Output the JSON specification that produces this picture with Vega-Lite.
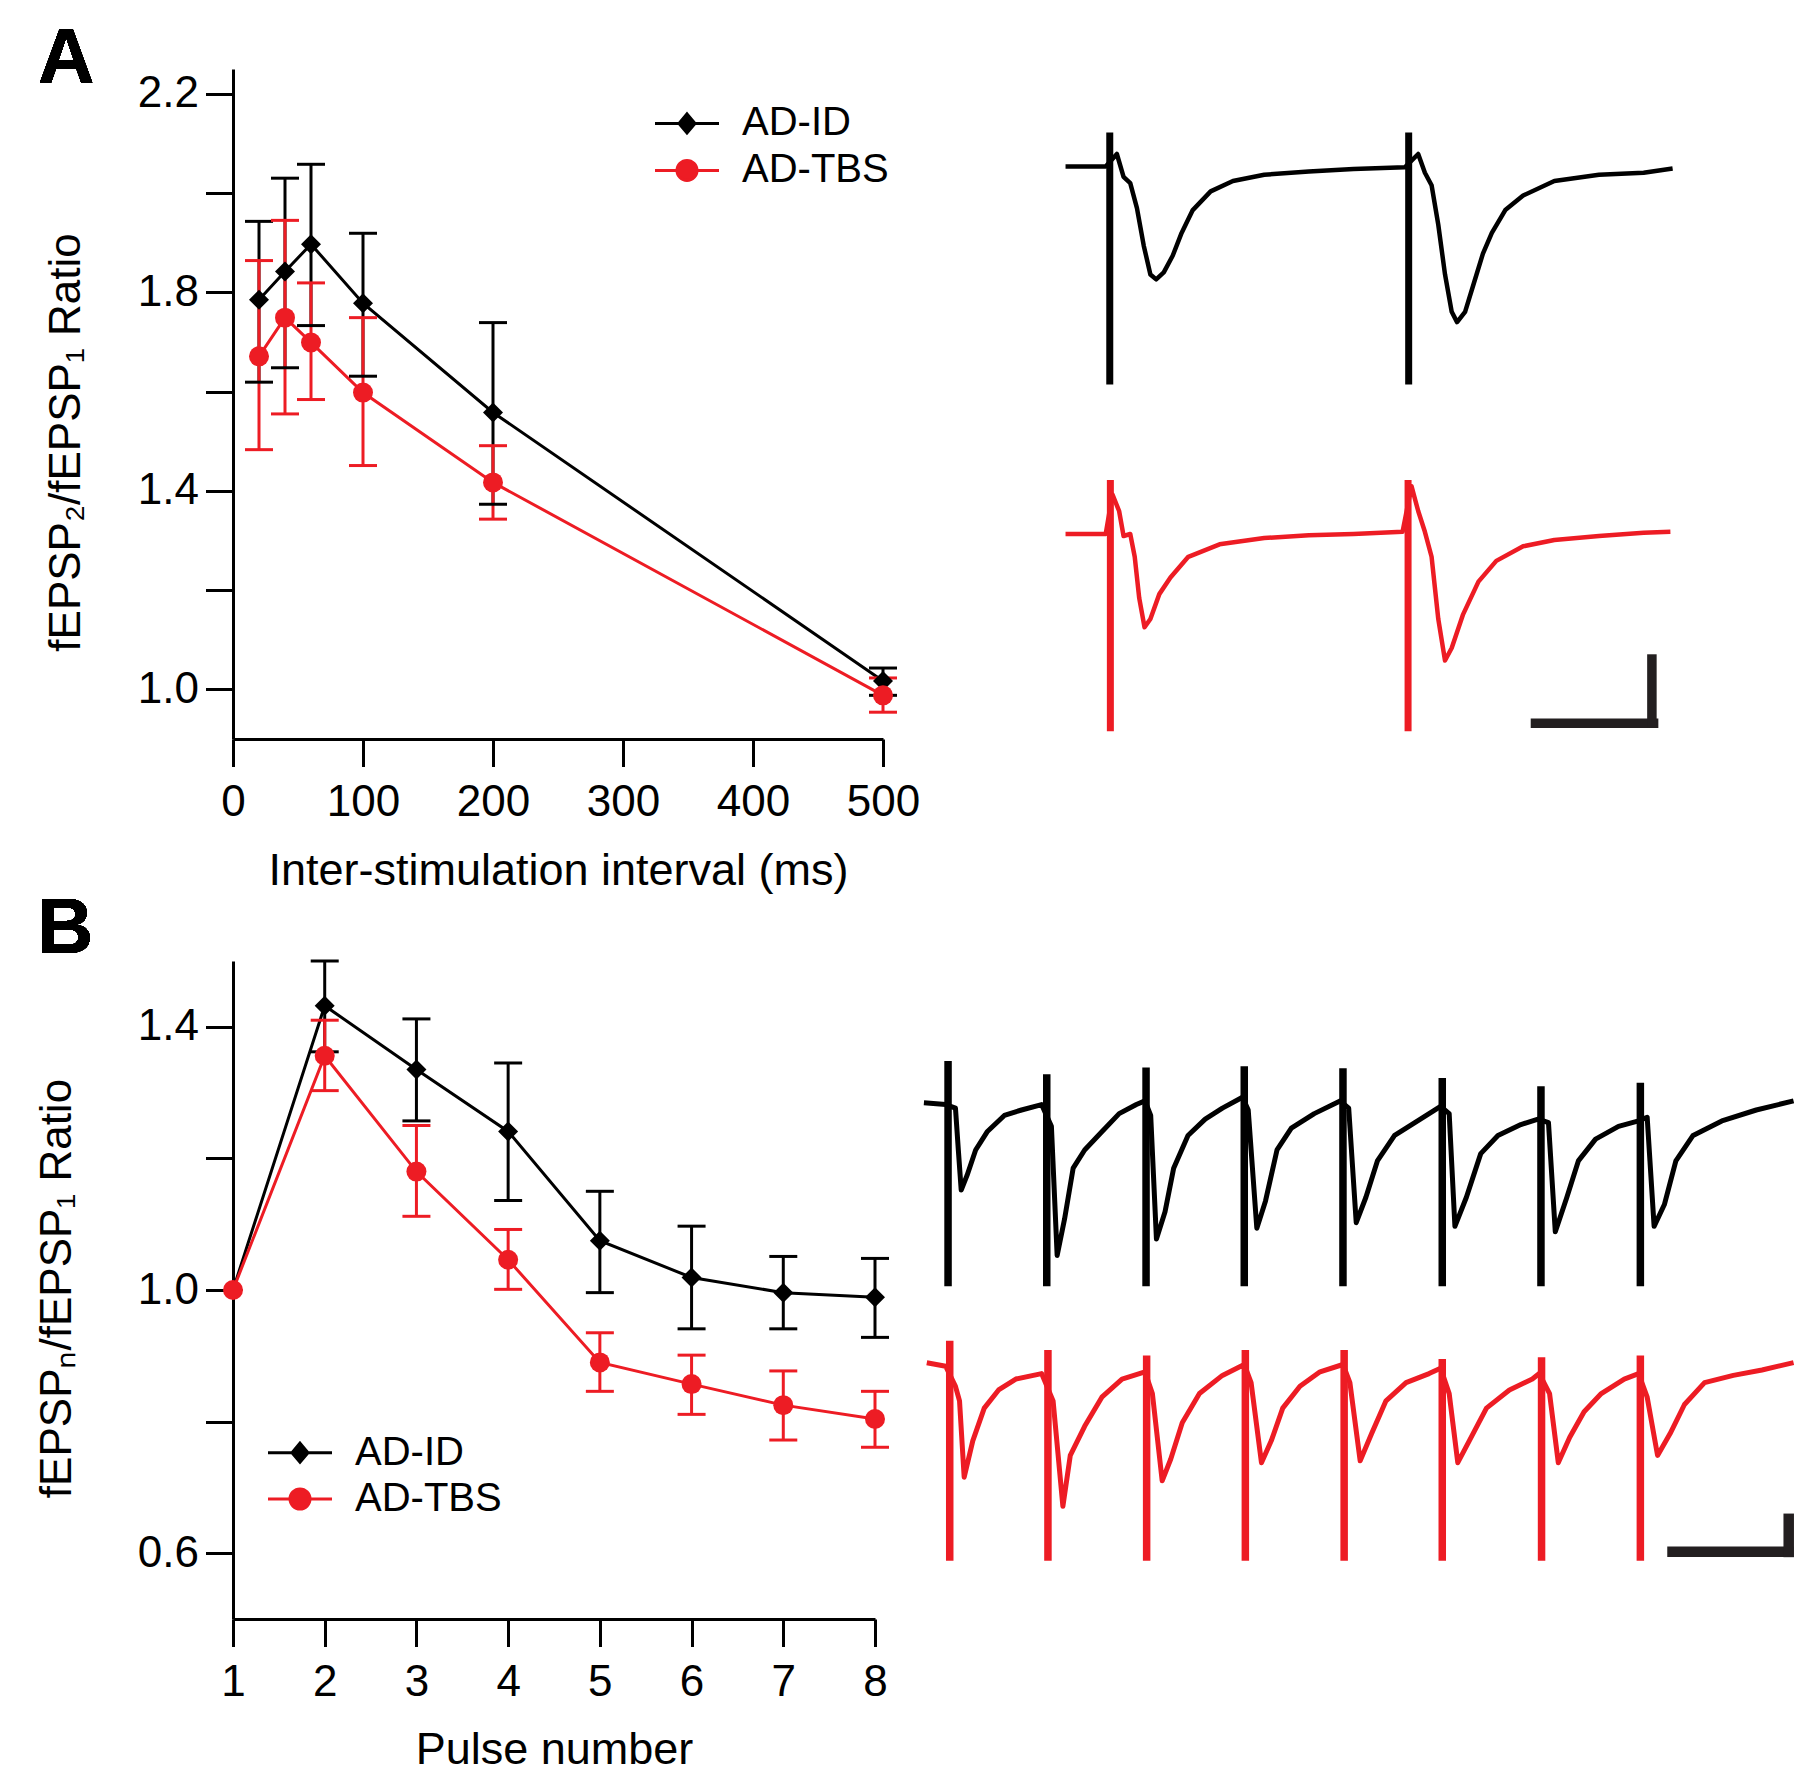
{
  "$schema": "https://vega.github.io/schema/vega-lite/v6.json",
  "background": "white",
  "padding": {"left": 35, "top": 21, "right": 0, "bottom": 0},
  "config": {
    "view": {"stroke": null},
    "font": "Liberation Sans",
    "axis": {"grid": false, "domainColor": "black", "domainWidth": 3, "tickColor": "black", "tickWidth": 3, "tickSize": 27.5, "labelFont": "Liberation Sans", "labelFontSize": 44, "labelColor": "black", "titleFont": "Liberation Sans", "titleFontSize": 44, "titleFontWeight": "normal", "titleColor": "black"},
    "legend": {"labelFont": "Liberation Sans", "labelFontSize": 40, "labelColor": "black", "symbolSize": 400, "symbolOffset": 12, "labelOffset": 35, "rowPadding": 7, "padding": 0, "symbolStrokeWidth": 3, "symbolOpacity": 1}
  },
  "datasets": {
    "pprA": [
      {"isi": 20, "series": "AD-ID", "ratio": 1.785, "lo": 1.619, "hi": 1.943},
      {"isi": 40, "series": "AD-ID", "ratio": 1.842, "lo": 1.648, "hi": 2.030},
      {"isi": 60, "series": "AD-ID", "ratio": 1.897, "lo": 1.733, "hi": 2.058},
      {"isi": 100, "series": "AD-ID", "ratio": 1.778, "lo": 1.631, "hi": 1.919},
      {"isi": 200, "series": "AD-ID", "ratio": 1.558, "lo": 1.373, "hi": 1.739},
      {"isi": 500, "series": "AD-ID", "ratio": 1.017, "lo": 0.988, "hi": 1.043},
      {"isi": 20, "series": "AD-TBS", "ratio": 1.671, "lo": 1.483, "hi": 1.864},
      {"isi": 40, "series": "AD-TBS", "ratio": 1.749, "lo": 1.555, "hi": 1.945},
      {"isi": 60, "series": "AD-TBS", "ratio": 1.699, "lo": 1.584, "hi": 1.819},
      {"isi": 100, "series": "AD-TBS", "ratio": 1.598, "lo": 1.451, "hi": 1.749},
      {"isi": 200, "series": "AD-TBS", "ratio": 1.417, "lo": 1.343, "hi": 1.491},
      {"isi": 500, "series": "AD-TBS", "ratio": 0.988, "lo": 0.954, "hi": 1.023}
    ],
    "pprB": [
      {"pulse": 1, "series": "AD-ID", "ratio": 1.0, "lo": null, "hi": null},
      {"pulse": 2, "series": "AD-ID", "ratio": 1.432, "lo": 1.362, "hi": 1.500},
      {"pulse": 3, "series": "AD-ID", "ratio": 1.335, "lo": 1.257, "hi": 1.412},
      {"pulse": 4, "series": "AD-ID", "ratio": 1.241, "lo": 1.136, "hi": 1.345},
      {"pulse": 5, "series": "AD-ID", "ratio": 1.075, "lo": 0.996, "hi": 1.150},
      {"pulse": 6, "series": "AD-ID", "ratio": 1.019, "lo": 0.941, "hi": 1.097},
      {"pulse": 7, "series": "AD-ID", "ratio": 0.996, "lo": 0.941, "hi": 1.051},
      {"pulse": 8, "series": "AD-ID", "ratio": 0.989, "lo": 0.928, "hi": 1.048},
      {"pulse": 1, "series": "AD-TBS", "ratio": 1.0, "lo": null, "hi": null},
      {"pulse": 2, "series": "AD-TBS", "ratio": 1.356, "lo": 1.303, "hi": 1.410},
      {"pulse": 3, "series": "AD-TBS", "ratio": 1.180, "lo": 1.112, "hi": 1.250},
      {"pulse": 4, "series": "AD-TBS", "ratio": 1.046, "lo": 1.001, "hi": 1.092},
      {"pulse": 5, "series": "AD-TBS", "ratio": 0.890, "lo": 0.846, "hi": 0.935},
      {"pulse": 6, "series": "AD-TBS", "ratio": 0.857, "lo": 0.811, "hi": 0.901},
      {"pulse": 7, "series": "AD-TBS", "ratio": 0.825, "lo": 0.772, "hi": 0.877},
      {"pulse": 8, "series": "AD-TBS", "ratio": 0.804, "lo": 0.761, "hi": 0.846}
    ],
    "traceA": [
      {"series": "AD-ID", "t": -7.04, "v": 0}, {"series": "AD-ID", "t": -0.37, "v": 0}, {"series": "AD-ID", "t": 1.48, "v": 0.086}, {"series": "AD-ID", "t": 2.59, "v": -0.071}, {"series": "AD-ID", "t": 3.70, "v": -0.114}, {"series": "AD-ID", "t": 4.81, "v": -0.286}, {"series": "AD-ID", "t": 5.93, "v": -0.543}, {"series": "AD-ID", "t": 7.04, "v": -0.743}, {"series": "AD-ID", "t": 8.0, "v": -0.777}, {"series": "AD-ID", "t": 9.26, "v": -0.729}, {"series": "AD-ID", "t": 10.74, "v": -0.614}, {"series": "AD-ID", "t": 12.22, "v": -0.457}, {"series": "AD-ID", "t": 14.07, "v": -0.3}, {"series": "AD-ID", "t": 17.04, "v": -0.171}, {"series": "AD-ID", "t": 20.74, "v": -0.1}, {"series": "AD-ID", "t": 25.93, "v": -0.057}, {"series": "AD-ID", "t": 33.33, "v": -0.034}, {"series": "AD-ID", "t": 40.74, "v": -0.017}, {"series": "AD-ID", "t": 49.26, "v": -0.006}, {"series": "AD-ID", "t": 51.48, "v": 0.086}, {"series": "AD-ID", "t": 52.59, "v": -0.043}, {"series": "AD-ID", "t": 53.70, "v": -0.129}, {"series": "AD-ID", "t": 54.81, "v": -0.4}, {"series": "AD-ID", "t": 55.93, "v": -0.743}, {"series": "AD-ID", "t": 57.04, "v": -1.0}, {"series": "AD-ID", "t": 57.93, "v": -1.071}, {"series": "AD-ID", "t": 59.26, "v": -1.0}, {"series": "AD-ID", "t": 60.74, "v": -0.8}, {"series": "AD-ID", "t": 62.22, "v": -0.6}, {"series": "AD-ID", "t": 63.70, "v": -0.457}, {"series": "AD-ID", "t": 65.93, "v": -0.3}, {"series": "AD-ID", "t": 68.89, "v": -0.2}, {"series": "AD-ID", "t": 74.07, "v": -0.1}, {"series": "AD-ID", "t": 81.48, "v": -0.057}, {"series": "AD-ID", "t": 88.89, "v": -0.043}, {"series": "AD-ID", "t": 93.70, "v": -0.014},
      {"series": "AD-TBS", "t": -7.04, "v": -2.529}, {"series": "AD-TBS", "t": -0.37, "v": -2.529}, {"series": "AD-TBS", "t": 0.74, "v": -2.257}, {"series": "AD-TBS", "t": 1.85, "v": -2.371}, {"series": "AD-TBS", "t": 2.59, "v": -2.543}, {"series": "AD-TBS", "t": 3.70, "v": -2.529}, {"series": "AD-TBS", "t": 4.44, "v": -2.686}, {"series": "AD-TBS", "t": 5.19, "v": -2.971}, {"series": "AD-TBS", "t": 6.07, "v": -3.171}, {"series": "AD-TBS", "t": 7.04, "v": -3.114}, {"series": "AD-TBS", "t": 8.52, "v": -2.943}, {"series": "AD-TBS", "t": 10.37, "v": -2.829}, {"series": "AD-TBS", "t": 13.33, "v": -2.686}, {"series": "AD-TBS", "t": 18.52, "v": -2.6}, {"series": "AD-TBS", "t": 25.93, "v": -2.557}, {"series": "AD-TBS", "t": 33.33, "v": -2.537}, {"series": "AD-TBS", "t": 40.74, "v": -2.529}, {"series": "AD-TBS", "t": 48.89, "v": -2.514}, {"series": "AD-TBS", "t": 50.37, "v": -2.2}, {"series": "AD-TBS", "t": 51.48, "v": -2.371}, {"series": "AD-TBS", "t": 52.59, "v": -2.514}, {"series": "AD-TBS", "t": 53.70, "v": -2.686}, {"series": "AD-TBS", "t": 54.81, "v": -3.114}, {"series": "AD-TBS", "t": 55.93, "v": -3.4}, {"series": "AD-TBS", "t": 57.04, "v": -3.314}, {"series": "AD-TBS", "t": 58.89, "v": -3.086}, {"series": "AD-TBS", "t": 61.48, "v": -2.857}, {"series": "AD-TBS", "t": 64.44, "v": -2.714}, {"series": "AD-TBS", "t": 68.89, "v": -2.614}, {"series": "AD-TBS", "t": 74.07, "v": -2.571}, {"series": "AD-TBS", "t": 81.48, "v": -2.543}, {"series": "AD-TBS", "t": 88.89, "v": -2.52}, {"series": "AD-TBS", "t": 93.33, "v": -2.514}
    ],
    "artA": [
      {"series": "AD-ID", "t": 0.3, "top": 0.234, "bot": -1.5},
      {"series": "AD-ID", "t": 49.9, "top": 0.234, "bot": -1.5},
      {"series": "AD-TBS", "t": 0.4, "top": -2.157, "bot": -3.886},
      {"series": "AD-TBS", "t": 49.8, "top": -2.157, "bot": -3.886}
    ],
    "barA": [
      {"t": 70.15, "t2": 91.33, "v": -3.831, "v2": -3.831},
      {"t": 90.26, "t2": 90.26, "v": -3.357, "v2": -3.863}
    ],
    "traceB": [
      {"series": "AD-ID", "t": -2.44, "v": 0}, {"series": "AD-ID", "t": -0.23, "v": -0.025}, {"series": "AD-ID", "t": 0.75, "v": -0.075}, {"series": "AD-ID", "t": 1.04, "v": -0.65}, {"series": "AD-ID", "t": 1.33, "v": -1.2}, {"series": "AD-ID", "t": 1.92, "v": -1.0}, {"series": "AD-ID", "t": 2.79, "v": -0.65}, {"series": "AD-ID", "t": 3.95, "v": -0.4}, {"series": "AD-ID", "t": 5.69, "v": -0.175}, {"series": "AD-ID", "t": 7.43, "v": -0.1}, {"series": "AD-ID", "t": 9.46, "v": -0.025},
      {"series": "AD-ID", "t": 10.45, "v": -0.325}, {"series": "AD-ID", "t": 11.03, "v": -2.1}, {"series": "AD-ID", "t": 11.78, "v": -1.6}, {"series": "AD-ID", "t": 12.65, "v": -0.9}, {"series": "AD-ID", "t": 13.81, "v": -0.65}, {"series": "AD-ID", "t": 15.55, "v": -0.4}, {"series": "AD-ID", "t": 17.30, "v": -0.15}, {"series": "AD-ID", "t": 19.04, "v": -0.025}, {"series": "AD-ID", "t": 19.91, "v": 0.025},
      {"series": "AD-ID", "t": 20.49, "v": -0.175}, {"series": "AD-ID", "t": 21.07, "v": -1.875}, {"series": "AD-ID", "t": 21.94, "v": -1.5}, {"series": "AD-ID", "t": 22.81, "v": -0.9}, {"series": "AD-ID", "t": 24.26, "v": -0.45}, {"series": "AD-ID", "t": 26.0, "v": -0.225}, {"series": "AD-ID", "t": 27.74, "v": -0.075}, {"series": "AD-ID", "t": 29.77, "v": 0.075},
      {"series": "AD-ID", "t": 30.35, "v": -0.1}, {"series": "AD-ID", "t": 31.22, "v": -1.725}, {"series": "AD-ID", "t": 32.10, "v": -1.35}, {"series": "AD-ID", "t": 33.26, "v": -0.65}, {"series": "AD-ID", "t": 34.71, "v": -0.35}, {"series": "AD-ID", "t": 37.03, "v": -0.15}, {"series": "AD-ID", "t": 39.64, "v": 0.025},
      {"series": "AD-ID", "t": 40.51, "v": -0.075}, {"series": "AD-ID", "t": 41.27, "v": -1.65}, {"series": "AD-ID", "t": 42.25, "v": -1.3}, {"series": "AD-ID", "t": 43.41, "v": -0.8}, {"series": "AD-ID", "t": 45.15, "v": -0.45}, {"series": "AD-ID", "t": 47.48, "v": -0.25}, {"series": "AD-ID", "t": 49.80, "v": -0.05},
      {"series": "AD-ID", "t": 50.67, "v": -0.15}, {"series": "AD-ID", "t": 51.25, "v": -1.7}, {"series": "AD-ID", "t": 52.41, "v": -1.3}, {"series": "AD-ID", "t": 53.86, "v": -0.7}, {"series": "AD-ID", "t": 55.60, "v": -0.45}, {"series": "AD-ID", "t": 57.92, "v": -0.3}, {"series": "AD-ID", "t": 59.66, "v": -0.225},
      {"series": "AD-ID", "t": 60.71, "v": -0.275}, {"series": "AD-ID", "t": 61.40, "v": -1.775}, {"series": "AD-ID", "t": 62.57, "v": -1.3}, {"series": "AD-ID", "t": 63.73, "v": -0.8}, {"series": "AD-ID", "t": 65.47, "v": -0.5}, {"series": "AD-ID", "t": 67.79, "v": -0.325}, {"series": "AD-ID", "t": 69.82, "v": -0.25},
      {"series": "AD-ID", "t": 70.69, "v": -0.2}, {"series": "AD-ID", "t": 71.39, "v": -1.7}, {"series": "AD-ID", "t": 72.43, "v": -1.4}, {"series": "AD-ID", "t": 73.59, "v": -0.8}, {"series": "AD-ID", "t": 75.33, "v": -0.45}, {"series": "AD-ID", "t": 78.24, "v": -0.25}, {"series": "AD-ID", "t": 81.72, "v": -0.1}, {"series": "AD-ID", "t": 85.49, "v": 0.025},
      {"series": "AD-TBS", "t": -2.15, "v": -3.575}, {"series": "AD-TBS", "t": -0.23, "v": -3.625}, {"series": "AD-TBS", "t": 0.75, "v": -3.9}, {"series": "AD-TBS", "t": 1.16, "v": -4.1}, {"series": "AD-TBS", "t": 1.63, "v": -5.15}, {"series": "AD-TBS", "t": 2.50, "v": -4.65}, {"series": "AD-TBS", "t": 3.66, "v": -4.2}, {"series": "AD-TBS", "t": 5.11, "v": -3.95}, {"series": "AD-TBS", "t": 6.85, "v": -3.8}, {"series": "AD-TBS", "t": 9.46, "v": -3.725},
      {"series": "AD-TBS", "t": 10.62, "v": -4.1}, {"series": "AD-TBS", "t": 11.61, "v": -5.55}, {"series": "AD-TBS", "t": 12.36, "v": -4.85}, {"series": "AD-TBS", "t": 13.81, "v": -4.45}, {"series": "AD-TBS", "t": 15.55, "v": -4.05}, {"series": "AD-TBS", "t": 17.59, "v": -3.8}, {"series": "AD-TBS", "t": 19.91, "v": -3.7},
      {"series": "AD-TBS", "t": 20.66, "v": -4.0}, {"series": "AD-TBS", "t": 21.65, "v": -5.2}, {"series": "AD-TBS", "t": 22.52, "v": -4.9}, {"series": "AD-TBS", "t": 23.68, "v": -4.4}, {"series": "AD-TBS", "t": 25.42, "v": -4.0}, {"series": "AD-TBS", "t": 27.74, "v": -3.75}, {"series": "AD-TBS", "t": 29.95, "v": -3.6},
      {"series": "AD-TBS", "t": 30.64, "v": -3.85}, {"series": "AD-TBS", "t": 31.69, "v": -4.95}, {"series": "AD-TBS", "t": 32.68, "v": -4.65}, {"series": "AD-TBS", "t": 33.84, "v": -4.2}, {"series": "AD-TBS", "t": 35.58, "v": -3.9}, {"series": "AD-TBS", "t": 37.61, "v": -3.7}, {"series": "AD-TBS", "t": 39.93, "v": -3.6},
      {"series": "AD-TBS", "t": 40.63, "v": -3.85}, {"series": "AD-TBS", "t": 41.67, "v": -4.925}, {"series": "AD-TBS", "t": 42.83, "v": -4.55}, {"series": "AD-TBS", "t": 44.28, "v": -4.1}, {"series": "AD-TBS", "t": 46.31, "v": -3.85}, {"series": "AD-TBS", "t": 48.64, "v": -3.725}, {"series": "AD-TBS", "t": 49.80, "v": -3.65},
      {"series": "AD-TBS", "t": 50.67, "v": -4.0}, {"series": "AD-TBS", "t": 51.54, "v": -4.95}, {"series": "AD-TBS", "t": 52.70, "v": -4.65}, {"series": "AD-TBS", "t": 54.44, "v": -4.2}, {"series": "AD-TBS", "t": 56.76, "v": -3.95}, {"series": "AD-TBS", "t": 59.08, "v": -3.8}, {"series": "AD-TBS", "t": 59.78, "v": -3.725},
      {"series": "AD-TBS", "t": 60.82, "v": -4.0}, {"series": "AD-TBS", "t": 61.70, "v": -4.95}, {"series": "AD-TBS", "t": 62.86, "v": -4.6}, {"series": "AD-TBS", "t": 64.31, "v": -4.25}, {"series": "AD-TBS", "t": 66.05, "v": -4.0}, {"series": "AD-TBS", "t": 68.37, "v": -3.8}, {"series": "AD-TBS", "t": 69.82, "v": -3.725},
      {"series": "AD-TBS", "t": 70.69, "v": -4.05}, {"series": "AD-TBS", "t": 71.74, "v": -4.85}, {"series": "AD-TBS", "t": 73.01, "v": -4.55}, {"series": "AD-TBS", "t": 74.46, "v": -4.15}, {"series": "AD-TBS", "t": 76.49, "v": -3.85}, {"series": "AD-TBS", "t": 79.40, "v": -3.75}, {"series": "AD-TBS", "t": 82.30, "v": -3.675}, {"series": "AD-TBS", "t": 85.49, "v": -3.575}
    ],
    "artB": [
      {"series": "AD-ID", "t": 0, "top": 0.575, "bot": -2.525},
      {"series": "AD-ID", "t": 9.98, "top": 0.39, "bot": -2.525},
      {"series": "AD-ID", "t": 20.02, "top": 0.485, "bot": -2.525},
      {"series": "AD-ID", "t": 29.95, "top": 0.5, "bot": -2.525},
      {"series": "AD-ID", "t": 39.93, "top": 0.475, "bot": -2.525},
      {"series": "AD-ID", "t": 49.97, "top": 0.34, "bot": -2.525},
      {"series": "AD-ID", "t": 59.95, "top": 0.225, "bot": -2.525},
      {"series": "AD-ID", "t": 70.0, "top": 0.275, "bot": -2.525},
      {"series": "AD-TBS", "t": 0.17, "top": -3.275, "bot": -6.3},
      {"series": "AD-TBS", "t": 10.1, "top": -3.4, "bot": -6.3},
      {"series": "AD-TBS", "t": 20.08, "top": -3.475, "bot": -6.3},
      {"series": "AD-TBS", "t": 30.06, "top": -3.4, "bot": -6.3},
      {"series": "AD-TBS", "t": 40.05, "top": -3.4, "bot": -6.3},
      {"series": "AD-TBS", "t": 49.97, "top": -3.525, "bot": -6.3},
      {"series": "AD-TBS", "t": 60.01, "top": -3.5, "bot": -6.3},
      {"series": "AD-TBS", "t": 70.0, "top": -3.475, "bot": -6.3}
    ],
    "barB": [
      {"t": 72.72, "t2": 85.49, "v": -6.175, "v2": -6.175},
      {"t": 85.0, "t2": 85.0, "v": -5.65, "v2": -6.25}
    ]
  },
  "columns": 2,
  "spacing": {"row": 222, "column": 15.6},
  "bounds": "flush",
  "align": "each",
  "resolve": {"scale": {"color": "independent", "shape": "independent", "stroke": "independent"}},
  "concat": [
    {
      "width": 650,
      "height": 670,
      "data": {"name": "pprA"},
      "resolve": {"scale": {"color": "independent", "shape": "independent", "stroke": "independent"}},
      "encoding": {
        "x": {"field": "isi", "type": "quantitative", "scale": {"domain": [0, 500], "zero": false, "nice": false}, "axis": {"values": [0, 100, 200, 300, 400, 500], "title": "Inter-stimulation interval (ms)", "titleY": 145, "titleFontSize": 45, "titleBaseline": "alphabetic", "labelPadding": 14, "labelFlush": false}}
      },
      "layer": [
        {"mark": {"type": "line", "strokeWidth": 3},
         "encoding": {"y": {"field": "ratio", "type": "quantitative", "scale": {"domain": [0.9, 2.25], "zero": false, "nice": false},
           "axis": {"values": [1.0, 1.2, 1.4, 1.6, 1.8, 2.0, 2.2], "labelExpr": "(round(datum.value*10) % 4 == 2) ? format(datum.value, '.1f') : ''", "title": "fEPSP₂/fEPSP₁ Ratio", "titleX": -154, "titleY": 373, "titleAngle": -90, "titleBaseline": "alphabetic", "titleAlign": "center", "titleFontSize": 44, "labelPadding": 7}},
           "color": {"field": "series", "type": "nominal", "scale": {"domain": ["AD-ID", "AD-TBS"], "range": ["#000000", "#ed1c24"]}, "legend": null}}},
        {"mark": {"type": "rule", "strokeWidth": 3},
         "encoding": {"y": {"field": "lo", "type": "quantitative", "title": "fEPSP₂/fEPSP₁ Ratio"}, "y2": {"field": "hi"},
           "color": {"field": "series", "type": "nominal", "scale": {"domain": ["AD-ID", "AD-TBS"], "range": ["#000000", "#ed1c24"]}, "legend": null}}},
        {"mark": {"type": "tick", "orient": "horizontal", "size": 28, "thickness": 3, "opacity": 1},
         "encoding": {"y": {"field": "hi", "type": "quantitative", "title": "fEPSP₂/fEPSP₁ Ratio"},
           "color": {"field": "series", "type": "nominal", "scale": {"domain": ["AD-ID", "AD-TBS"], "range": ["#000000", "#ed1c24"]}, "legend": null}}},
        {"mark": {"type": "tick", "orient": "horizontal", "size": 28, "thickness": 3, "opacity": 1},
         "encoding": {"y": {"field": "lo", "type": "quantitative", "title": "fEPSP₂/fEPSP₁ Ratio"},
           "color": {"field": "series", "type": "nominal", "scale": {"domain": ["AD-ID", "AD-TBS"], "range": ["#000000", "#ed1c24"]}, "legend": null}}},
        {"mark": {"type": "point", "filled": true, "size": 400, "opacity": 1},
         "encoding": {"y": {"field": "ratio", "type": "quantitative", "title": "fEPSP₂/fEPSP₁ Ratio"},
           "color": {"field": "series", "type": "nominal", "scale": {"domain": ["AD-ID", "AD-TBS"], "range": ["#000000", "#ed1c24"]}, "legend": null},
           "shape": {"field": "series", "type": "nominal", "scale": {"domain": ["AD-ID", "AD-TBS"], "range": ["diamond", "circle"]}, "legend": null}}},
        {"mark": {"type": "point", "filled": true, "size": 400, "opacity": 0, "strokeWidth": 3},
         "encoding": {"y": {"field": "ratio", "type": "quantitative", "title": "fEPSP₂/fEPSP₁ Ratio"},
           "color": {"field": "series", "type": "nominal", "scale": {"domain": ["AD-ID", "AD-TBS"], "range": ["#000000", "#ed1c24"]},
             "legend": {"orient": "none", "legendX": 422, "legendY": 34.4, "title": null}},
           "stroke": {"field": "series", "type": "nominal", "scale": {"domain": ["AD-ID", "AD-TBS"], "range": ["#000000", "#ed1c24"]},
             "legend": {"orient": "none", "legendX": 422, "legendY": 34.4, "title": null}},
           "shape": {"field": "series", "type": "nominal", "scale": {"domain": ["AD-ID", "AD-TBS"], "range": ["M-3.2,0H3.2M0,-0.95L0.8,0L0,0.95L-0.8,0Z", "M-3.2,0H3.2M1,0A1,1 0 1 1 -1,0A1,1 0 1 1 1,0Z"]},
             "legend": {"orient": "none", "legendX": 422, "legendY": 34.4, "title": null}}}},
        {"mark": {"type": "text", "text": "A", "font": "Liberation Sans", "fontSize": 78, "fontWeight": "bold", "align": "left", "baseline": "alphabetic", "color": "black"},
         "encoding": {"x": {"datum": -150}, "y": {"datum": 2.2214}}}
      ]
    },
    {
      "width": 812,
      "height": 670,
      "layer": [
        {"data": {"name": "traceA"}, "mark": {"type": "line", "strokeWidth": 4.5, "strokeJoin": "round"},
         "encoding": {"x": {"field": "t", "type": "quantitative", "scale": {"domain": [-34.74, 100], "zero": false, "nice": false}, "axis": null},
           "y": {"field": "v", "type": "quantitative", "scale": {"domain": [-3.94, 0.671], "zero": false, "nice": false}, "axis": null},
           "color": {"field": "series", "type": "nominal", "scale": {"domain": ["AD-ID", "AD-TBS"], "range": ["#000000", "#ed1c24"]}, "legend": null}}},
        {"data": {"name": "artA"}, "mark": {"type": "rule", "strokeWidth": 7},
         "encoding": {"x": {"field": "t", "type": "quantitative", "axis": null}, "y": {"field": "top", "type": "quantitative", "axis": null}, "y2": {"field": "bot"},
           "color": {"field": "series", "type": "nominal", "legend": null}}},
        {"data": {"name": "barA"}, "mark": {"type": "rule", "strokeWidth": 9.5, "color": "#231f20"},
         "encoding": {"x": {"field": "t", "type": "quantitative", "axis": null}, "x2": {"field": "t2"}, "y": {"field": "v", "type": "quantitative", "axis": null}, "y2": {"field": "v2"}}}
      ]
    },
    {
      "width": 642,
      "height": 658,
      "data": {"name": "pprB"},
      "resolve": {"scale": {"color": "independent", "shape": "independent", "stroke": "independent"}},
      "encoding": {
        "x": {"field": "pulse", "type": "quantitative", "scale": {"domain": [1, 8], "zero": false, "nice": false}, "axis": {"values": [1, 2, 3, 4, 5, 6, 7, 8], "title": "Pulse number", "titleY": 144, "titleFontSize": 45, "titleBaseline": "alphabetic", "labelPadding": 14, "labelFlush": false}}
      },
      "layer": [
        {"mark": {"type": "line", "strokeWidth": 3},
         "encoding": {"y": {"field": "ratio", "type": "quantitative", "scale": {"domain": [0.5, 1.5], "zero": false, "nice": false},
           "axis": {"values": [0.6, 0.8, 1.0, 1.2, 1.4], "labelExpr": "(round(datum.value*10) % 4 == 2) ? format(datum.value, '.1f') : ''", "title": "fEPSPₙ/fEPSP₁ Ratio", "titleX": -163, "titleY": 327, "titleAngle": -90, "titleBaseline": "alphabetic", "titleAlign": "center", "titleFontSize": 44, "labelPadding": 7}},
           "color": {"field": "series", "type": "nominal", "scale": {"domain": ["AD-ID", "AD-TBS"], "range": ["#000000", "#ed1c24"]}, "legend": null}}},
        {"mark": {"type": "rule", "strokeWidth": 3},
         "encoding": {"y": {"field": "lo", "type": "quantitative", "title": "fEPSPₙ/fEPSP₁ Ratio"}, "y2": {"field": "hi"},
           "color": {"field": "series", "type": "nominal", "scale": {"domain": ["AD-ID", "AD-TBS"], "range": ["#000000", "#ed1c24"]}, "legend": null}}},
        {"mark": {"type": "tick", "orient": "horizontal", "size": 28, "thickness": 3, "opacity": 1},
         "encoding": {"y": {"field": "hi", "type": "quantitative", "title": "fEPSPₙ/fEPSP₁ Ratio"},
           "color": {"field": "series", "type": "nominal", "scale": {"domain": ["AD-ID", "AD-TBS"], "range": ["#000000", "#ed1c24"]}, "legend": null}}},
        {"mark": {"type": "tick", "orient": "horizontal", "size": 28, "thickness": 3, "opacity": 1},
         "encoding": {"y": {"field": "lo", "type": "quantitative", "title": "fEPSPₙ/fEPSP₁ Ratio"},
           "color": {"field": "series", "type": "nominal", "scale": {"domain": ["AD-ID", "AD-TBS"], "range": ["#000000", "#ed1c24"]}, "legend": null}}},
        {"mark": {"type": "point", "filled": true, "size": 400, "opacity": 1},
         "encoding": {"y": {"field": "ratio", "type": "quantitative", "title": "fEPSPₙ/fEPSP₁ Ratio"},
           "color": {"field": "series", "type": "nominal", "scale": {"domain": ["AD-ID", "AD-TBS"], "range": ["#000000", "#ed1c24"]}, "legend": null},
           "shape": {"field": "series", "type": "nominal", "scale": {"domain": ["AD-ID", "AD-TBS"], "range": ["diamond", "circle"]}, "legend": null}}},
        {"mark": {"type": "point", "filled": true, "size": 400, "opacity": 0, "strokeWidth": 3},
         "encoding": {"y": {"field": "ratio", "type": "quantitative", "title": "fEPSPₙ/fEPSP₁ Ratio"},
           "color": {"field": "series", "type": "nominal", "scale": {"domain": ["AD-ID", "AD-TBS"], "range": ["#000000", "#ed1c24"]},
             "legend": {"orient": "none", "legendX": 35, "legendY": 471.7, "title": null, "rowPadding": 6.3}},
           "stroke": {"field": "series", "type": "nominal", "scale": {"domain": ["AD-ID", "AD-TBS"], "range": ["#000000", "#ed1c24"]},
             "legend": {"orient": "none", "legendX": 35, "legendY": 471.7, "title": null, "rowPadding": 6.3}},
           "shape": {"field": "series", "type": "nominal", "scale": {"domain": ["AD-ID", "AD-TBS"], "range": ["M-3.2,0H3.2M0,-0.95L0.8,0L0,0.95L-0.8,0Z", "M-3.2,0H3.2M1,0A1,1 0 1 1 -1,0A1,1 0 1 1 1,0Z"]},
             "legend": {"orient": "none", "legendX": 35, "legendY": 471.7, "title": null, "rowPadding": 6.3}}}},
        {"mark": {"type": "text", "text": "B", "font": "Liberation Sans", "fontSize": 78, "fontWeight": "bold", "align": "left", "baseline": "alphabetic", "color": "black"},
         "encoding": {"x": {"datum": -1.137}, "y": {"datum": 1.5126}}}
      ]
    },
    {
      "width": 900,
      "height": 658,
      "layer": [
        {"data": {"name": "traceB"}, "mark": {"type": "line", "strokeWidth": 5, "strokeJoin": "round"},
         "encoding": {"x": {"field": "t", "type": "quantitative", "scale": {"domain": [-5, 86], "zero": false, "nice": false}, "axis": null},
           "y": {"field": "v", "type": "quantitative", "scale": {"domain": [-7.1, 1.949], "zero": false, "nice": false}, "axis": null},
           "color": {"field": "series", "type": "nominal", "scale": {"domain": ["AD-ID", "AD-TBS"], "range": ["#000000", "#ed1c24"]}, "legend": null}}},
        {"data": {"name": "artB"}, "mark": {"type": "rule", "strokeWidth": 7.5},
         "encoding": {"x": {"field": "t", "type": "quantitative", "axis": null}, "y": {"field": "top", "type": "quantitative", "axis": null}, "y2": {"field": "bot"},
           "color": {"field": "series", "type": "nominal", "legend": null}}},
        {"data": {"name": "barB"}, "mark": {"type": "rule", "strokeWidth": 10.5, "color": "#231f20"},
         "encoding": {"x": {"field": "t", "type": "quantitative", "axis": null}, "x2": {"field": "t2"}, "y": {"field": "v", "type": "quantitative", "axis": null}, "y2": {"field": "v2"}}}
      ]
    }
  ]
}
